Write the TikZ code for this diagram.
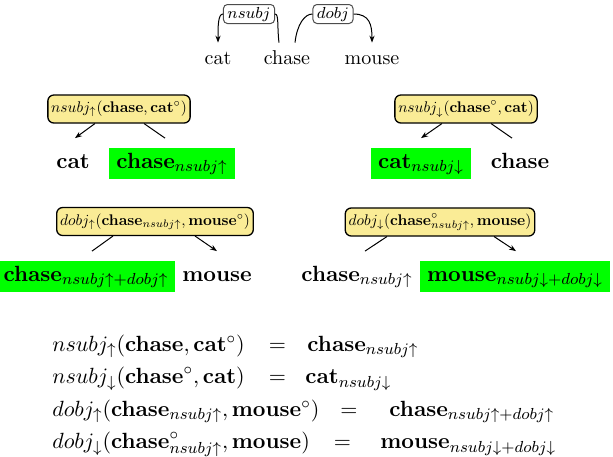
\RequirePackage{fix-cm}
\documentclass[tikz,border=0pt]{standalone}
\usetikzlibrary{arrows.meta}
\DeclareMathSizes{11}{11}{8}{6}
\definecolor{fnyellow}{RGB}{250,236,150}
\definecolor{hlgreen}{RGB}{0,255,0}
\begin{document}
\begin{tikzpicture}[x=0.5pt,y=-0.5pt,
  topword/.style={font=\fontsize{10}{12}\selectfont, inner sep=0pt, text height=7pt, text depth=0pt, anchor=base},
  deplab/.style={draw=black!70, fill=white, rounded corners=2pt, font=\fontsize{8}{9}\selectfont, inner xsep=2pt, inner ysep=0pt, minimum height=9.5pt, line width=0.5pt},
  deparc/.style={line width=0.5pt},
  deparrow/.style={line width=0.5pt, -{Stealth[length=3.5pt,width=2.6pt]}},
  fn/.style={draw, fill=fnyellow, rounded corners=3pt, font=\fontsize{10}{12}\selectfont, scale=0.77, inner xsep=2.2pt, inner ysep=1pt, minimum height=18.2pt, line width=0.65pt},
  word/.style={font=\fontsize{11}{13}\selectfont, inner xsep=3.5pt, inner ysep=2.25pt, text height=8pt, text depth=3pt},
  hl/.style={word, fill=hlgreen},
  tline/.style={line width=0.5pt},
  tarrow/.style={line width=0.5pt, -{Stealth[length=3.5pt,width=2.6pt]}},
  eq/.style={font=\fontsize{11}{13}\selectfont, inner sep=0pt, anchor=base west},
  eqsign/.style={font=\fontsize{11}{13}\selectfont, inner sep=0pt, anchor=base}]
\useasboundingbox (0,0) rectangle (613,456);

% top dependency tree
\node[topword] (cat0) at (218,64) {cat};
\node[topword] (chase0) at (287,64) {chase};
\node[topword] (mouse0) at (372,64) {mouse};
\node[deplab] (L1) at (249,14) {$nsubj$};
\node[deplab] (L2) at (333,14) {$dobj$};
\draw[deparrow] (L1.west) .. controls +(-5,0) and +(0,-16) .. ([shift={(0,-7)}]cat0.north);
\draw[deparc] (L1.east) .. controls +(4,0) and +(-2,-16) .. ([shift={(-8,-7)}]chase0.north);
\draw[deparc] ([shift={(8,-7)}]chase0.north) .. controls +(2,-18) and +(-8,0) .. (L2.west);
\draw[deparrow] (L2.east) .. controls +(16,0) and +(0,-18) .. ([shift={(0,-7)}]mouse0.north);

% middle left
\node[fn] (A) at (119,109) {$nsubj_{\uparrow}(\mathbf{chase},\mathbf{cat}^{\circ})$};
\node[word] (cat1) at (73,163) {$\mathbf{cat}$};
\node[hl] (chase1) at (172,163) {$\mathbf{chase}_{nsubj\uparrow}$};
\draw[tarrow] ([xshift=-12pt]A.south) -- ([shift={(2,-9)}]cat1.north);
\draw[tline] ([xshift=12.5pt]A.south) -- ([shift={(-7,-9)}]chase1.north);

% middle right
\node[fn] (B) at (466,109) {$nsubj_{\downarrow}(\mathbf{chase}^{\circ},\mathbf{cat})$};
\node[hl] (cat2) at (421,163) {$\mathbf{cat}_{nsubj\downarrow}$};
\node[word] (chase2) at (520,163) {$\mathbf{chase}$};
\draw[tarrow] ([xshift=-12pt]B.south) -- ([shift={(0,-9)}]cat2.north);
\draw[tline] ([xshift=12.5pt]B.south) -- ([shift={(-8,-9)}]chase2.north);

% lower left
\node[fn] (C) at (155,221.5) {$dobj_{\uparrow}(\mathbf{chase}_{nsubj\uparrow},\mathbf{mouse}^{\circ})$};
\node[hl] (chase3) at (86,276) {$\mathbf{chase}_{nsubj\uparrow+dobj\uparrow}$};
\node[word] (mouse3) at (217,276) {$\mathbf{mouse}$};
\draw[tline] ([xshift=-21pt]C.south) -- ([shift={(6,-9)}]chase3.north);
\draw[tarrow] ([xshift=20pt]C.south) -- ([shift={(0,-9)}]mouse3.north);

% lower right
\node[fn] (D) at (440,222) {$dobj_{\downarrow}(\mathbf{chase}^{\circ}_{nsubj\uparrow},\mathbf{mouse})$};
\node[word] (chase4) at (357,276) {$\mathbf{chase}_{nsubj\uparrow}$};
\node[hl] (mouse4) at (515,276) {$\mathbf{mouse}_{nsubj\downarrow+dobj\downarrow}$};
\draw[tline] ([xshift=-26.5pt]D.south) -- ([shift={(8,-9)}]chase4.north);
\draw[tarrow] ([xshift=27pt]D.south) -- ([shift={(1,-9)}]mouse4.north);

% equations
\node[eq] (e1l) at (52,351) {$nsubj_{\uparrow}(\mathbf{chase},\mathbf{cat}^{\circ})$};
\node[eqsign] (e1s) at (277.5,351) {$=$};
\node[eq] (e1r) at (307,351) {$\mathbf{chase}_{nsubj\uparrow}$};
\node[eq] (e2l) at (52,383.5) {$nsubj_{\downarrow}(\mathbf{chase}^{\circ},\mathbf{cat})$};
\node[eqsign] (e2s) at (277.5,383.5) {$=$};
\node[eq] (e2r) at (305,383.5) {$\mathbf{cat}_{nsubj\downarrow}$};
\node[eq] (e3l) at (52,416) {$dobj_{\uparrow}(\mathbf{chase}_{nsubj\uparrow},\mathbf{mouse}^{\circ})$};
\node[eqsign] (e3s) at (349,416) {$=$};
\node[eq] (e3r) at (389,416) {$\mathbf{chase}_{nsubj\uparrow+dobj\uparrow}$};
\node[eq] (e4l) at (52,448.5) {$dobj_{\downarrow}(\mathbf{chase}^{\circ}_{nsubj\uparrow},\mathbf{mouse})$};
\node[eqsign] (e4s) at (342.5,448.5) {$=$};
\node[eq] (e4r) at (380,448.5) {$\mathbf{mouse}_{nsubj\downarrow+dobj\downarrow}$};
\end{tikzpicture}
\end{document}
